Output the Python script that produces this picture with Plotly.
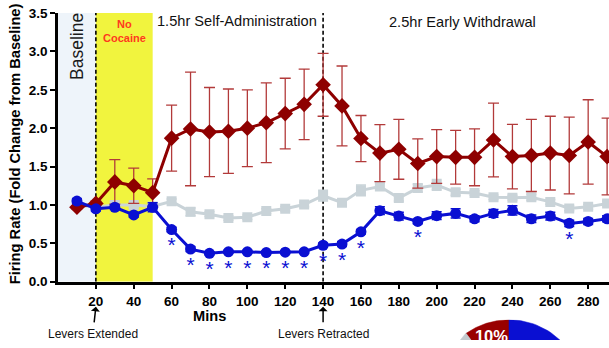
import numpy as np
import plotly.graph_objects as go

# ---------------- data ----------------
minutes = list(range(10, 300, 10))

red_vals = [0.97, 1.02, 1.30, 1.25, 1.16, 1.87, 1.99, 1.95, 1.96, 2.00,
            2.07, 2.19, 2.31, 2.565, 2.29, 1.865, 1.675, 1.725, 1.54, 1.63,
            1.62, 1.62, 1.845, 1.63, 1.645, 1.675, 1.645, 1.82, 1.63]
red_err = [0.02, 0.03, 0.29, 0.23, 0.18, 0.43, 0.74, 0.58, 0.55, 0.50,
           0.52, 0.46, 0.46, 0.41, 0.52, 0.30, 0.37, 0.39, 0.32, 0.35,
           0.35, 0.37, 0.48, 0.42, 0.47, 0.48, 0.50, 0.55, 0.50]

gray_vals = [1.00, 0.97, 1.00, 1.00, 0.98, 1.047, 0.91, 0.88, 0.83, 0.84,
             0.92, 0.95, 1.005, 1.12, 1.03, 1.19, 1.24, 1.09, 1.22, 1.26,
             1.165, 1.155, 1.10, 1.095, 1.10, 1.04, 0.955, 0.975, 1.02]
gray_err = [0.02, 0.02, 0.03, 0.03, 0.03, 0.03, 0.05, 0.03, 0.03, 0.03,
            0.03, 0.03, 0.03, 0.07, 0.04, 0.07, 0.04, 0.04, 0.05, 0.07,
            0.04, 0.03, 0.03, 0.03, 0.04, 0.03, 0.03, 0.03, 0.03]

blue_vals = [1.05, 0.95, 0.97, 0.87, 0.97, 0.68, 0.425, 0.37, 0.39, 0.39,
             0.38, 0.385, 0.39, 0.475, 0.49, 0.65, 0.925, 0.855, 0.785, 0.86,
             0.89, 0.82, 0.89, 0.93, 0.82, 0.855, 0.76, 0.785, 0.82]
blue_err = [0.03, 0.03, 0.03, 0.03, 0.06, 0.03, 0.03, 0.02, 0.02, 0.02,
            0.02, 0.02, 0.02, 0.03, 0.03, 0.03, 0.05, 0.05, 0.03, 0.05,
            0.06, 0.04, 0.05, 0.06, 0.05, 0.05, 0.04, 0.04, 0.04]

sig_minutes = [60, 70, 80, 90, 100, 110, 120, 130, 140, 150, 160, 190, 270]

phase_edges = [0, 20, 50, 140]          # baseline, no-cocaine, self-admin start, retraction
x_ticks = list(range(20, 300, 20))
y_ticks = [0.0, 0.5, 1.0, 1.5, 2.0, 2.5, 3.0, 3.5]

pie_labels = ["red", "gray", "blue"]
pie_pcts = [10, 20, 70]

# ---------------- style ----------------
FONT = "Arial, Liberation Sans, sans-serif"
RED = "#8e0000"
RED_ERR = "#b23a3a"
GRAY = "#c9d3d8"
BLUE = "#0a0fd2"
PIE_COLORS = ["#990000", "#c3cace", "#0a0fd2"]

fig = go.Figure()

fig.add_trace(go.Scatter(
    x=minutes, y=gray_vals, mode="lines+markers",
    line=dict(color=GRAY, width=3),
    marker=dict(symbol="square", size=10, color=GRAY),
    error_y=dict(type="data", array=gray_err, color=GRAY, thickness=1.5, width=5),
    showlegend=False))

fig.add_trace(go.Scatter(
    x=minutes, y=red_vals, mode="lines+markers",
    line=dict(color=RED, width=3),
    marker=dict(symbol="diamond", size=12, color=RED),
    error_y=dict(type="data", array=red_err, color=RED_ERR, thickness=1.3, width=5.5),
    showlegend=False))

fig.add_trace(go.Scatter(
    x=minutes, y=blue_vals, mode="lines+markers",
    line=dict(color=BLUE, width=3),
    marker=dict(symbol="circle", size=11, color=BLUE),
    error_y=dict(type="data", array=blue_err, color=BLUE, thickness=1.5, width=5),
    showlegend=False))

# significance asterisks
ast_offset = 0.23
sig_x = [m for m in minutes if m in sig_minutes]
sig_y = [blue_vals[minutes.index(m)] - ast_offset for m in sig_x]
fig.add_trace(go.Scatter(
    x=sig_x, y=sig_y, mode="text", text=["*"] * len(sig_x),
    textfont=dict(family=FONT, size=21, color=BLUE),
    showlegend=False, hoverinfo="skip"))

# ---------------- pie (partially visible, clipped at the bottom) ----------------
start = 90.0
ang = start
for lab, pct, col in zip(pie_labels, pie_pcts, PIE_COLORS):
    sweep = pct / 100 * 360
    t = np.radians(np.linspace(ang, ang + sweep, 80))
    xs = np.concatenate([[0], np.cos(t), [0]])
    ys = np.concatenate([[0], np.sin(t), [0]])
    fig.add_trace(go.Scatter(x=xs, y=ys, mode="lines", fill="toself",
                             fillcolor=col, line=dict(color=col, width=0.5),
                             xaxis="x2", yaxis="y2", showlegend=False,
                             hoverinfo="skip"))
    if lab == "red":
        mid = np.radians(ang + sweep / 2)
        fig.add_trace(go.Scatter(x=[0.78 * np.cos(mid)], y=[0.78 * np.sin(mid)],
                                 mode="text", text=[f"{pct}%"],
                                 textfont=dict(family=FONT, size=16.5, color="white",
                                               weight="bold"),
                                 xaxis="x2", yaxis="y2", showlegend=False,
                                 hoverinfo="skip"))
    ang += sweep

# ---------------- shapes ----------------
DASH = "4px,2.5px"
shapes = [
    dict(type="rect", xref="x", yref="y", x0=phase_edges[0], x1=phase_edges[1],
         y0=0, y1=3.5, fillcolor="#eef4fa", line=dict(width=0), layer="below"),
    dict(type="rect", xref="x", yref="y", x0=phase_edges[1], x1=phase_edges[2],
         y0=0, y1=3.5, fillcolor="#f1f43e", line=dict(width=0), layer="below"),
    dict(type="line", xref="x", yref="y", x0=phase_edges[1], x1=phase_edges[1],
         y0=0, y1=3.5, line=dict(color="black", width=1.6, dash=DASH), layer="below"),
    dict(type="line", xref="x", yref="y", x0=phase_edges[3], x1=phase_edges[3],
         y0=0, y1=3.5, line=dict(color="black", width=1.6, dash=DASH), layer="below"),
]

# ---------------- annotations ----------------
def txt(text, x, y, xref="x", yref="y", xanchor="center", **kw):
    d = dict(text=text, x=x, y=y, xref=xref, yref=yref, showarrow=False,
             xanchor=xanchor, yanchor="middle")
    d.update(kw)
    return d

ann = [
    txt("Baseline", 10, 3.07, textangle=-90,
        font=dict(family=FONT, size=17.5, color="#1a1a1a")),
    txt("No<br>Cocaine", 35, 3.27,
        font=dict(family=FONT, size=11, color="#ff3a1e", weight="bold")),
    txt("1.5hr Self-Administration", 51.0, 3.39, xanchor="left",
        font=dict(family=FONT, size=14.6, color="#111")),
    txt("2.5hr Early Withdrawal", 173.7, 3.38, xanchor="left",
        font=dict(family=FONT, size=14.6, color="#111")),
    txt("Firing Rate (Fold Change from Baseline)", (15 - 58) / 551,
        (348 - 147.5) / 335, xref="paper", yref="paper", textangle=-90,
        font=dict(family=FONT, size=14.7, color="black", weight="bold")),
    txt("Mins", 80, (348 - 323) / 335, yref="paper",
        font=dict(family=FONT, size=14.6, color="black", weight="bold")),
    dict(text="Levers Extended", x=phase_edges[1], y=(348 - 314) / 335, xref="x",
         yref="paper", showarrow=True, ax=-3, ay=27, arrowhead=1, arrowsize=1,
         arrowwidth=1.5, arrowcolor="black", startstandoff=3,
         font=dict(family=FONT, size=12, color="#111")),
    dict(text="Levers Retracted", x=phase_edges[3], y=(348 - 314) / 335, xref="x",
         yref="paper", showarrow=True, ax=0, ay=27, arrowhead=1, arrowsize=1,
         arrowwidth=1.5, arrowcolor="black", startstandoff=3,
         font=dict(family=FONT, size=12, color="#111")),
]

axis_common = dict(showgrid=False, zeroline=False, showline=True, linecolor="black",
                   linewidth=2.5, ticks="outside", ticklen=5, tickwidth=2,
                   tickcolor="black",
                   tickfont=dict(family=FONT, size=13.5, color="black", weight="bold"))

fig.update_layout(
    width=609, height=348, autosize=False,
    margin=dict(l=58, r=0, t=13, b=0, pad=0),
    paper_bgcolor="white", plot_bgcolor="white",
    font=dict(family=FONT),
    showlegend=False, hovermode=False,
    shapes=shapes, annotations=ann,
    xaxis=dict(domain=[0, 1], range=[0, 291], tickvals=x_ticks, anchor="y",
               **axis_common),
    yaxis=dict(domain=[(348 - 288.3) / 335, 1], range=[0, 3.5], tickvals=y_ticks,
               tickformat=".1f", anchor="x", **axis_common),
    xaxis2=dict(domain=[(436 - 58) / 551, (582 - 58) / 551], range=[-1, 1],
                visible=False, anchor="y2"),
    yaxis2=dict(domain=[0, 20.7 / 335], range=[1 - 20.7 / 73, 1.0],
                visible=False, anchor="x2"),
)

# remove the default page margin so the 609x348 figure fills the window exactly
page_css = ("document.body.style.margin='0px';"
            "document.body.style.padding='0px';"
            "document.body.style.overflow='hidden';"
            "document.documentElement.style.overflow='hidden';")

fig.write_html("out.html", post_script=page_css,
               config={"displayModeBar": False, "staticPlot": False})
